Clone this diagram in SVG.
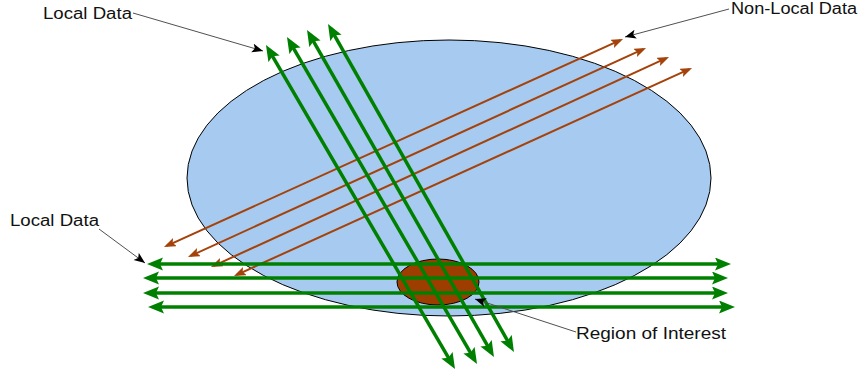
<svg xmlns="http://www.w3.org/2000/svg" width="861" height="376" viewBox="0 0 861 376">
<style>
.lbl{font-family:"Liberation Sans",Arial,sans-serif;font-size:16px;fill:#111}
.g{stroke:#008000;stroke-width:3.5;fill:none;marker-start:url(#ga);marker-end:url(#ga)}
.b{stroke:#A4420A;stroke-width:2;fill:none;marker-start:url(#ba);marker-end:url(#ba)}
.ld{stroke:#505050;stroke-width:1;fill:none;marker-end:url(#ka)}
</style>
<defs>
<marker id="ga" markerUnits="userSpaceOnUse" markerWidth="20" markerHeight="16" refX="11" refY="6.5" orient="auto-start-reverse" viewBox="0 0 20 16">
<path d="M0,0 L16,6.5 L0,13 L3,6.5 Z" fill="#008000"/>
</marker>
<marker id="ba" markerUnits="userSpaceOnUse" markerWidth="14" markerHeight="12" refX="9" refY="4.5" orient="auto-start-reverse" viewBox="0 0 14 12">
<path d="M0,0 L12,4.5 L0,9 L2.5,4.5 Z" fill="#A4420A"/>
</marker>
<marker id="ka" markerUnits="userSpaceOnUse" markerWidth="14" markerHeight="12" refX="11" refY="4.5" orient="auto" viewBox="0 0 14 12">
<path d="M0,0 L11,4.5 L0,9 L2.5,4.5 Z" fill="#000"/>
</marker>
</defs>
<g id="region-large">
<ellipse cx="449" cy="178" rx="262" ry="138" fill="#A6CAF0" stroke="#000" stroke-width="1"/>
</g>
<g id="connectors">
<line class="b" x1="166.7" y1="245.8" x2="620.3" y2="40.2"/>
<line class="b" x1="190.7" y1="255.8" x2="643.3" y2="49.2"/>
<line class="b" x1="213.7" y1="265.8" x2="666.3" y2="58.2"/>
<line class="b" x1="236.7" y1="274.8" x2="689.3" y2="69.2"/>
</g>
<g id="region-of-interest">
<ellipse cx="438" cy="282" rx="41" ry="23" fill="#9E3D00" stroke="#000" stroke-width="1"/>
</g>
<g id="green-connectors">
<line class="g" x1="268.5" y1="49.3" x2="452.5" y2="364.7"/>
<line class="g" x1="289.5" y1="41.3" x2="474.5" y2="359.7"/>
<line class="g" x1="309.5" y1="34.3" x2="491.5" y2="352.7"/>
<line class="g" x1="330.5" y1="28.3" x2="511.5" y2="347.7"/>
<line class="g" x1="152" y1="264" x2="726" y2="264"/>
<line class="g" x1="148" y1="278" x2="723" y2="278"/>
<line class="g" x1="148" y1="293" x2="723" y2="293"/>
<line class="g" x1="153" y1="307" x2="730" y2="307"/>
</g>
<g id="leaders">
<line class="ld" x1="133" y1="13" x2="263" y2="51"/>
<line class="ld" x1="729" y1="9" x2="625" y2="37"/>
<line class="ld" x1="99" y1="229" x2="145" y2="263"/>
<line class="ld" x1="576" y1="332" x2="475" y2="299"/>
</g>
<g id="label-local-top"><text class="lbl" x="43" y="19" textLength="89" lengthAdjust="spacingAndGlyphs">Local Data</text></g>
<g id="label-nonlocal"><text class="lbl" x="731" y="14" textLength="126" lengthAdjust="spacingAndGlyphs">Non-Local Data</text></g>
<g id="label-local-left"><text class="lbl" x="10" y="226" textLength="89" lengthAdjust="spacingAndGlyphs">Local Data</text></g>
<g id="label-roi"><text class="lbl" x="576" y="339" textLength="150" lengthAdjust="spacingAndGlyphs">Region of Interest</text></g>
</svg>
